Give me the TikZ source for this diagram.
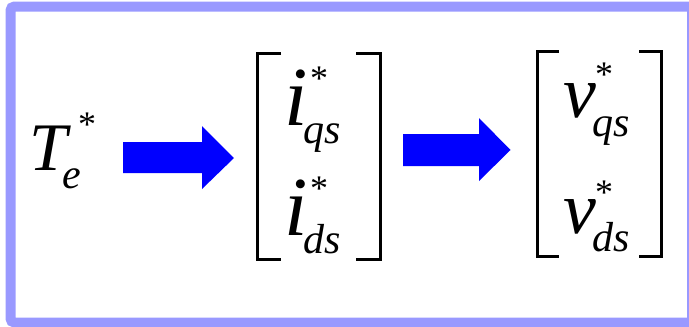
\documentclass[tikz,border=0pt]{standalone}
\usepackage{fontspec}
\setmainfont{Liberation Serif}[ItalicFont={Liberation Serif Italic}]
\definecolor{framec}{RGB}{153,153,255}
\definecolor{arrowc}{RGB}{0,0,255}
\begin{document}
\begin{tikzpicture}[x=1pt,y=-1pt,
  txt/.style={inner sep=0pt,outer sep=0pt,anchor=base west},
  bigT/.style={txt,font=\itshape\fontsize{68}{68}\selectfont},
  bigi/.style={txt,font=\itshape\fontsize{84}{84}\selectfont},
  bigv/.style={txt,font=\itshape\fontsize{74}{74}\selectfont},
  sub/.style={txt,font=\itshape\fontsize{42}{42}\selectfont},
  star/.style={txt,font=\fontsize{36}{36}\selectfont},
  bigarrow/.style={fill=arrowc,draw=none},
  brk/.style={line width=3pt,black}]
\useasboundingbox (0,0) rectangle (689,327);
\draw[framec,line width=10pt,rounded corners=4pt] (10.5,6.5) rectangle (692,322.5);
% T_e^*
\node[bigT] (T) at (30,170) {T};
\node[sub] (Te) at (63,188) {e};
\node[star] (Ts) at (78,136) {*};
% arrow 1
\fill[bigarrow] (123,142) -- (202,142) -- (202,126) -- (234,158) -- (202,189) -- (202,173) -- (123,173) -- cycle;
% matrix 1
\draw[brk] (281,53) -- (257,53) -- (257,259) -- (281,259);
\draw[brk] (356,53) -- (380,53) -- (380,259) -- (356,259);
\node[bigi] (i1) at (284,125) {i};
\node[sub] (i1s) at (303,143) {qs};
\node[star] (i1t) at (310,90) {*};
\node[bigi] (i2) at (284,235) {i};
\node[sub] (i2s) at (303,253) {ds};
\node[star] (i2t) at (310,200) {*};
% arrow 2
\fill[bigarrow] (403,134) -- (479,134) -- (479,118) -- (510.5,150) -- (479,181) -- (479,166) -- (403,166) -- cycle;
% matrix 2
\draw[brk] (559,51) -- (537,51) -- (537,256) -- (559,256);
\draw[brk] (639,51) -- (661,51) -- (661,256) -- (639,256);
\node[bigv] (v1) at (563,117) {v};
\node[sub] (v1s) at (592,136) {qs};
\node[star] (v1t) at (595,86) {*};
\node[bigv] (v2) at (563,233) {v};
\node[sub] (v2s) at (592,251) {ds};
\node[star] (v2t) at (595,204) {*};
\end{tikzpicture}
\end{document}
